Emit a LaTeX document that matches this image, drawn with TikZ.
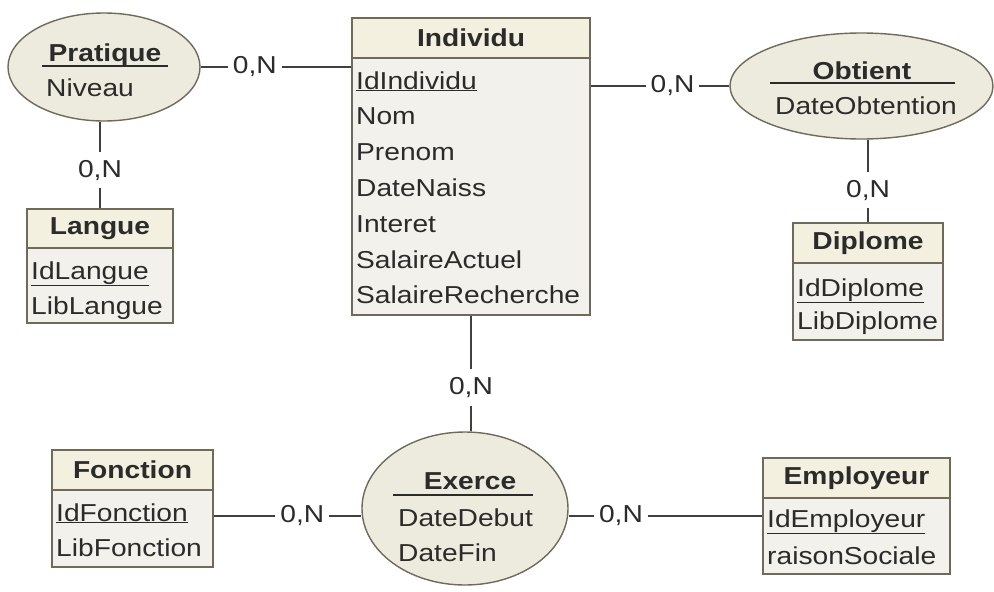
\documentclass[tikz,border=0pt]{standalone}
\usepackage{fontspec}
\setmainfont{Liberation Sans}[FakeStretch=1.15]
\usepackage{tikz}
\usepackage{xcolor}
\usetikzlibrary{shapes.geometric}

\definecolor{edgecol}{HTML}{6F6A5A}
\definecolor{headfill}{HTML}{F4F0E0}
\definecolor{bodyfill}{HTML}{F2F1EB}
\definecolor{assocfill}{HTML}{EDEBDD}
\definecolor{txtcol}{HTML}{2B2B2B}

\begin{document}
\begin{tikzpicture}[x=1pt,y=-1pt,
    font=\fontsize{24.5}{30}\selectfont, text=txtcol,
    entity/.style={draw=edgecol, line width=1.6pt, fill=bodyfill, inner sep=0pt},
    etitle/.style={draw=edgecol, line width=1.6pt, fill=headfill, inner sep=0pt, anchor=north, font=\fontsize{24.5}{30}\selectfont\bfseries},
    assoc/.style={ellipse, draw=edgecol, line width=1.4pt, fill=assocfill, inner sep=0pt},
    atitle/.style={anchor=base, inner sep=0pt, font=\fontsize{24.5}{30}\selectfont\bfseries},
    attr/.style={anchor=base west, inner sep=0pt},
    sepline/.style={draw=txtcol, line width=1.4pt},
    link/.style={draw=txtcol!90, line width=1.6pt},
    card/.style={fill=white, inner xsep=5pt, inner ysep=8pt}]
    \useasboundingbox (0,0) rectangle (994,592);

    % entites
    \node [entity, minimum width=238pt, minimum height=297pt] (indiv) at (471,166.5) {};
    \node [etitle, minimum width=238pt, minimum height=40pt] (indivT) at (indiv.north) {Individu};
    \node [attr] (indiv-id) at (356,89) {\underline{IdIndividu}};
    \foreach \a [count=\i from 1] in {Nom,Prenom,DateNaiss,Interet,SalaireActuel,SalaireRecherche}
        \node [attr] (indiv-\i) at (356,{89+35.8*\i}) {\a};

    \node [entity, minimum width=146pt, minimum height=114pt] (lang) at (100,266) {};
    \node [etitle, minimum width=146pt, minimum height=39pt] (langT) at (lang.north) {Langue};
    \node [attr] (lang-1) at (31,279) {\underline{IdLangue}};
    \node [attr] (lang-2) at (31,314) {LibLangue};

    \node [entity, minimum width=150pt, minimum height=117pt] (dipl) at (868,281.5) {};
    \node [etitle, minimum width=150pt, minimum height=40pt] (diplT) at (dipl.north) {Diplome};
    \node [attr] (dipl-1) at (797,296) {\underline{IdDiplome}};
    \node [attr] (dipl-2) at (797,329) {LibDiplome};

    \node [entity, minimum width=161pt, minimum height=117pt] (fonc) at (132.5,508.5) {};
    \node [etitle, minimum width=161pt, minimum height=40pt] (foncT) at (fonc.north) {Fonction};
    \node [attr] (fonc-1) at (56,521) {\underline{IdFonction}};
    \node [attr] (fonc-2) at (56,556) {LibFonction};

    \node [entity, minimum width=187pt, minimum height=116pt] (emp) at (856.5,516) {};
    \node [etitle, minimum width=187pt, minimum height=40pt] (empT) at (emp.north) {Employeur};
    \node [attr] (emp-1) at (767,527) {\underline{IdEmployeur}};
    \node [attr] (emp-2) at (767,564) {raisonSociale};

    % associations
    \node [assoc, minimum width=192pt, minimum height=108pt] (prat) at (104,67) {};
    \node [atitle] (pratT) at (105,61) {Pratique};
    \draw [sepline] (42,66) -- (168,66);
    \node [attr] (prat-1) at (46,96) {Niveau};

    \node [assoc, minimum width=263pt, minimum height=106pt] (obt) at (861.5,86) {};
    \node [atitle] (obtT) at (862,79) {Obtient};
    \draw [sepline] (770,83) -- (955,83);
    \node [attr] (obt-1) at (775,114) {DateObtention};

    \node [assoc, minimum width=206pt, minimum height=153pt] (exe) at (465,508.5) {};
    \node [atitle] (exeT) at (470,489) {Exerce};
    \draw [sepline] (393,495) -- (533,495);
    \node [attr] (exe-1) at (398,526) {DateDebut};
    \node [attr] (exe-2) at (398,561) {DateFin};

    % liens
    \draw [link] (prat.east) -- node [card, pos=0.36] (c1) {0,N} (prat.east -| indiv.west);
    \draw [link] (lang.north) -- node [card, pos=0.44] (c2) {0,N} (lang.north |- prat.south);
    \draw [link] (indiv.east |- obt.west) -- node [card, pos=0.59] (c3) {0,N} (obt.west);
    \draw [link] (dipl.north) -- node [card, pos=0.39] (c4) {0,N} (dipl.north |- obt.south);
    \draw [link] (indiv.south) -- node [card, pos=0.62] (c5) {0,N} (indiv.south |- exe.north);
    \draw [link] (fonc.east |- emp.west) -- node [card, pos=0.6] (c6) {0,N} (exe.west |- emp.west);
    \draw [link] (emp.west) -- node [card, pos=0.73] (c7) {0,N} (emp.west -| exe.east);
\end{tikzpicture}
\end{document}
